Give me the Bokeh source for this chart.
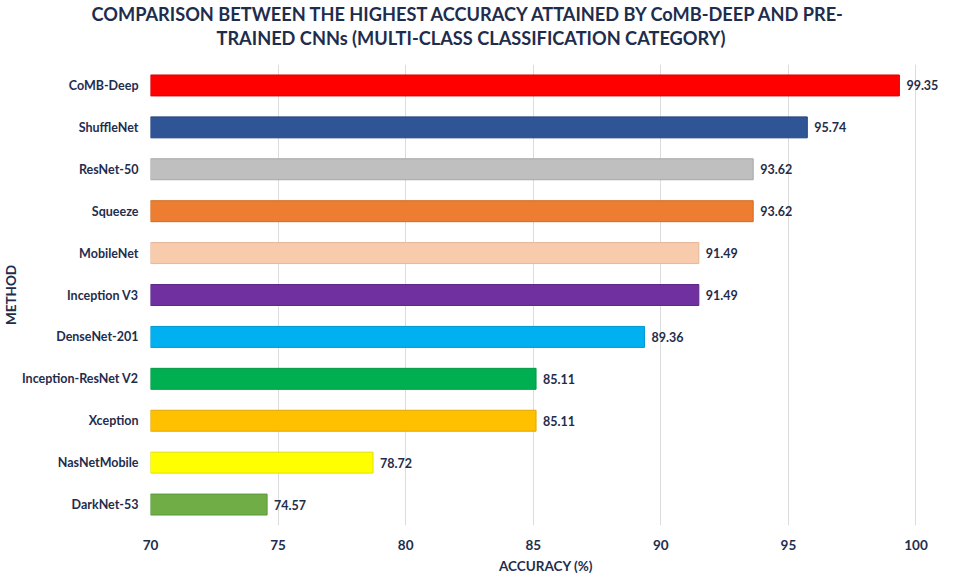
from bokeh.plotting import figure
from bokeh.models import ColumnDataSource, FactorRange, Range1d, Title, FixedTicker, LabelSet
from bokeh.core.properties import value
from bokeh.embed import file_html
from bokeh.resources import INLINE

methods = ["CoMB-Deep", "ShuffleNet", "ResNet-50", "Squeeze", "MobileNet", "Inception V3",
           "DenseNet-201", "Inception-ResNet V2", "Xception", "NasNetMobile", "DarkNet-53"]
accuracy = [99.35, 95.74, 93.62, 93.62, 91.49, 91.49, 89.36, 85.11, 85.11, 78.72, 74.57]
colors = ["#FF0000", "#2F5597", "#BFBFBF", "#ED7D31", "#F8CBAD", "#7030A0",
          "#00B0F0", "#00B050", "#FFC000", "#FFFF00", "#70AD47"]
outlines = ["#E00000", "#22427A", "#A6A6A6", "#D26A22", "#E6B699", "#5E2788",
            "#0098D0", "#009844", "#E0A800", "#E0E000", "#5A9A3A"]
x_ticks = [70, 75, 80, 85, 90, 95, 100]
title_lines = ["COMPARISON BETWEEN THE HIGHEST ACCURACY ATTAINED BY CoMB-DEEP AND PRE-",
               "TRAINED CNNs (MULTI-CLASS CLASSIFICATION CATEGORY)"]

NAVY = "#1F2D4D"
FONT = "Lato"

src = ColumnDataSource(dict(m=methods, a=accuracy, c=colors, o=outlines,
                            lbl=["%.2f" % v for v in accuracy]))

p = figure(width=941, height=576, output_backend="svg", toolbar_location=None,
           y_range=FactorRange(factors=methods[::-1]), x_range=Range1d(70, 101.0),
           min_border_left=141, min_border_right=0, min_border_top=60, min_border_bottom=48)

p.hbar(y="m", left=70, right="a", height=0.5, fill_color="c", line_color="o",
       line_width=1, source=src)
p.add_layout(LabelSet(x="a", y="m", text="lbl", x_offset=7, text_baseline="middle",
                      text_align="left", text_font=value(FONT), text_font_style="bold",
                      text_font_size="12.5px", text_color=NAVY, source=src))

p.title.text = title_lines[0]
p.title.align = "left"
p.title.offset = -59
p.title.text_font = FONT
p.title.text_font_size = "18.2px"
p.title.text_color = NAVY
p.title.text_font_style = "bold"
p.title.standoff = 0
# empty spacer between the title and the plot (closest to the plot)
p.add_layout(Title(text=" ", text_font=FONT, text_font_size="8px", standoff=4), "above")
p.add_layout(Title(text=title_lines[1], align="left", offset=66, text_font=FONT,
                   text_font_size="18.2px", text_color=NAVY, text_font_style="bold",
                   standoff=0), "above")

p.xaxis.ticker = FixedTicker(ticks=x_ticks)
p.xaxis.axis_label = "ACCURACY (%)"
p.yaxis.axis_label = "METHOD"
for ax in (p.xaxis, p.yaxis):
    ax.axis_line_color = None
    ax.major_tick_line_color = None
    ax.minor_tick_line_color = None
    ax.major_tick_out = 0
    ax.major_tick_in = 0
    ax.minor_tick_out = 0
    ax.major_label_text_font = FONT
    ax.major_label_text_font_style = "bold"
    ax.major_label_text_color = NAVY
    ax.axis_label_text_font = FONT
    ax.axis_label_text_font_style = "bold"
    ax.axis_label_text_color = NAVY
    ax.axis_label_text_font_size = "13.5px"
p.xaxis.major_label_text_font_size = "13.5px"
p.yaxis.major_label_text_font_size = "12.5px"
p.xaxis.major_label_standoff = 14
p.xaxis.axis_label_standoff = 5
p.yaxis.major_label_standoff = 12
p.yaxis.axis_label_standoff = 0

p.xgrid.grid_line_color = "#DCDCDC"
p.ygrid.grid_line_color = None
p.outline_line_color = None

open("out.html", "w").write(file_html(p, INLINE))
